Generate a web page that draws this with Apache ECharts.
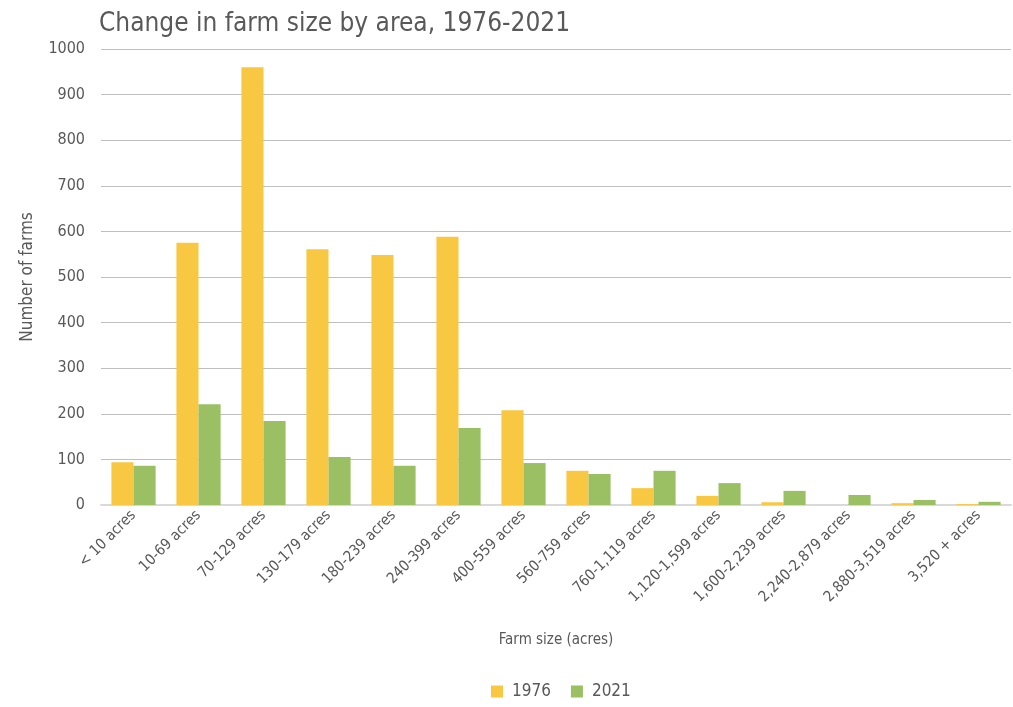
<!DOCTYPE html>
<html>
<head>
<meta charset="utf-8">
<script src="https://cdn.jsdelivr.net/npm/echarts@6/dist/echarts.min.js"></script>
<style>
html,body{margin:0;padding:0;background:#fff;}
#main{width:1013px;height:707px;}
</style>
</head>
<body>
<div id="main"></div>
<script>
// farm size categories
var categories = ["< 10 acres","10-69 acres","70-129 acres","130-179 acres","180-239 acres",
	"240-399 acres","400-559 acres","560-759 acres","760-1,119 acres","1,120-1,599 acres",
	"1,600-2,239 acres","2,240-2,879 acres","2,880-3,519 acres","3,520 + acres"];
// number of farms
var farms1976 = [94,575,960,561,548,588,208,75,37,20,6,0,4,2];
var farms2021 = [86,221,184,105,86,169,92,68,75,48,31,22,11,7];
var yTicks = [0,100,200,300,400,500,600,700,800,900,1000];

var font = "'DejaVu Sans Condensed','Liberation Sans Narrow',sans-serif";
var grey = "#595959";

var myChart = echarts.init(document.getElementById("main"));
var option = {
	animation:false,
	title:{
		text:"Change in farm size by area, 1976-2021",
		left:94,
		top:6,
		textStyle:{fontFamily:font,fontSize:26,fontWeight:"normal",color:grey}
	},
	legend:{
		bottom:2,
		left:486,
		itemWidth:12,
		itemHeight:12,
		itemGap:20,
		icon:"rect",
		textStyle:{fontFamily:font,fontSize:17,color:grey,padding:[0,0,0,4]}
	},
	grid:{left:101,right:2,top:49,bottom:202},
	xAxis:{
		type:"category",
		data:categories,
		name:"Farm size (acres)",
		nameLocation:"middle",
		nameGap:128,
		nameTextStyle:{fontFamily:font,fontSize:15,color:grey},
		axisTick:{show:false},
		axisLine:{lineStyle:{color:"#d9d9d9",width:2}},
		axisLabel:{rotate:45,interval:0,fontFamily:font,fontSize:15,color:grey,margin:8}
	},
	yAxis:{
		type:"value",
		min:yTicks[0],
		max:yTicks[yTicks.length-1],
		interval:100,
		name:"Number of farms",
		nameLocation:"middle",
		nameGap:65,
		nameTextStyle:{fontFamily:font,fontSize:17,color:grey},
		axisLabel:{fontFamily:font,fontSize:16,color:grey,margin:16,formatter:function(v){return String(v);}},
		splitLine:{lineStyle:{color:"#bfbfbf",width:1}}
	},
	series:[
		{
			name:"1976",
			type:"bar",
			data:farms1976,
			barWidth:"34%",
			barGap:"0%",
			itemStyle:{color:"#F9C843"}
		},
		{
			name:"2021",
			type:"bar",
			data:farms2021,
			barWidth:"34%",
			barGap:"0%",
			itemStyle:{color:"#9BBF63"}
		}
	]
};
myChart.setOption(option);
</script>
</body>
</html>
